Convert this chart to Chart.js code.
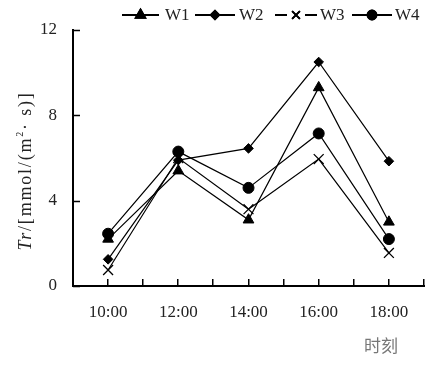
<!DOCTYPE html>
<html>
<head>
<meta charset="utf-8">
<style>
html,body{margin:0;padding:0;background:#fff;}
#wrap{width:439px;height:366px;position:relative;}
</style>
<script src="https://cdn.jsdelivr.net/npm/chart.js@4/dist/chart.umd.min.js"></script>
</head>
<body>
<div id="wrap"><canvas id="c"></canvas></div>
<script>
const categories = ['10:00', '12:00', '14:00', '16:00', '18:00'];
const w1 = [2.2, 5.4, 3.1, 9.3, 3.0];
const w2 = [1.25, 5.9, 6.45, 10.5, 5.85];
const w3 = [0.75, 6.0, 3.6, 5.95, 1.55];
const w4 = [2.45, 6.3, 4.6, 7.15, 2.2];
const seriesNames = ['W1', 'W2', 'W3', 'W4'];
const yTicks = [0, 4, 8, 12];
const xTitle = '时刻';

const FONT = '"Liberation Serif", "Times New Roman", serif';
const styles = [
  {pointStyle: 'triangle', r: 6.2, lr: 5.5},
  {pointStyle: 'rectRot', r: 4.8, lr: 4.2},
  {pointStyle: 'crossRot', r: 7, lr: 5.5},
  {pointStyle: 'circle', r: 5.5, lr: 4.5}
];
const allData = [w1, w2, w3, w4];

const datasets = allData.map((d, i) => ({
  label: seriesNames[i],
  data: d,
  borderColor: '#000',
  backgroundColor: '#000',
  borderWidth: 1.2,
  pointStyle: styles[i].pointStyle,
  pointRadius: styles[i].r,
  pointHoverRadius: styles[i].r,
  pointBorderWidth: styles[i].pointStyle === 'crossRot' ? 1.3 : 1,
  pointBackgroundColor: '#000',
  pointBorderColor: '#000',
  tension: 0,
  fill: false
}));

const decor = {
  id: 'decor',
  afterDraw(chart) {
    const ctx = chart.ctx;
    const ca = chart.chartArea;
    const xs = chart.scales.x, ys = chart.scales.y;
    ctx.save();
    // inward ticks
    ctx.strokeStyle = '#000';
    ctx.lineWidth = 1.5;
    ctx.beginPath();
    yTicks.forEach(v => {
      const py = Math.round(ys.getPixelForValue(v)) + 0.5;
      ctx.moveTo(ca.left, py); ctx.lineTo(ca.left + 7, py);
    });
    const n = categories.length;
    const cw = (ca.right - ca.left) / n;
    for (let i = 1; i <= 2 * n; i++) {
      const px = Math.round(ca.left + i * cw / 2) - 0.25;
      ctx.moveTo(px, ca.bottom); ctx.lineTo(px, ca.bottom - 7);
    }
    ctx.stroke();

    // y title (rotated)
    ctx.save();
    ctx.translate(26, 171);
    ctx.rotate(-Math.PI / 2);
    ctx.fillStyle = '#222';
    ctx.textBaseline = 'middle';
    ctx.textAlign = 'left';
    if ('letterSpacing' in ctx) ctx.letterSpacing = '1.8px';
    const parts = [
      {t: 'Tr', f: 'italic 18px ' + FONT, dy: 0},
      {t: '/[mmol/(m', f: '18px ' + FONT, dy: 0},
      {t: '2', f: '10px ' + FONT, dy: -6},
      {t: '· s)]', f: '18px ' + FONT, dy: 0}
    ];
    let total = 0;
    parts.forEach(p => { ctx.font = p.f; total += ctx.measureText(p.t).width; });
    let x = -total / 2;
    parts.forEach(p => { ctx.font = p.f; ctx.fillText(p.t, x, p.dy); x += ctx.measureText(p.t).width; });
    ctx.restore();

    // x title
    ctx.fillStyle = '#777';
    ctx.font = '17px "Noto Sans CJK SC", sans-serif';
    ctx.textAlign = 'center';
    ctx.textBaseline = 'middle';
    ctx.fillText(xTitle, xs.getPixelForValue(n - 1) - 8, 346);

    // legend
    const legendY = 15;
    const items = [
      {x0: 122, x1: 159, tx: 165},
      {x0: 195, x1: 235, tx: 239},
      {x0: 275, x1: 317, tx: 320},
      {x0: 352, x1: 392, tx: 395}
    ];
    ctx.font = '17px ' + FONT;
    ctx.textAlign = 'left';
    ctx.textBaseline = 'middle';
    items.forEach((it, i) => {
      const cx = (it.x0 + it.x1) / 2;
      ctx.strokeStyle = '#000';
      ctx.lineWidth = 1.8;
      ctx.beginPath();
      if (styles[i].pointStyle === 'crossRot') {
        ctx.moveTo(it.x0, legendY); ctx.lineTo(cx - 9, legendY);
        ctx.moveTo(cx + 9, legendY); ctx.lineTo(it.x1, legendY);
      } else {
        ctx.moveTo(it.x0, legendY); ctx.lineTo(it.x1, legendY);
      }
      ctx.stroke();
      Chart.helpers.drawPoint(ctx, {
        pointStyle: styles[i].pointStyle,
        radius: styles[i].lr,
        borderWidth: 1.2,
        rotation: 0
      }, cx, legendY);
      ctx.fillStyle = '#000';
      ctx.strokeStyle = '#000';
      ctx.fill();
      ctx.stroke();
      ctx.fillStyle = '#222';
      ctx.fillText(seriesNames[i], it.tx, legendY + 1);
    });
    ctx.restore();
  }
};

new Chart(document.getElementById('c'), {
  type: 'line',
  data: {labels: categories, datasets},
  options: {
    responsive: true,
    maintainAspectRatio: false,
    animation: false,
    events: [],
    layout: {padding: {left: 0, right: 15, top: 30, bottom: 0}},
    plugins: {legend: {display: false}, tooltip: {enabled: false}},
    scales: {
      x: {
        type: 'category',
        offset: true,
        grid: {display: true, drawOnChartArea: false, drawTicks: false},
        border: {display: true, color: '#000', width: 2},
        ticks: {color: '#222', font: {family: FONT, size: 17}, padding: 16, maxRotation: 0},
        afterFit(s) { s.height = 80; }
      },
      y: {
        min: 0, max: 12,
        afterBuildTicks(s) { s.ticks = yTicks.map(v => ({value: v})); },
        grid: {display: true, drawOnChartArea: false, drawTicks: false},
        border: {display: true, color: '#000', width: 2},
        ticks: {color: '#222', font: {family: FONT, size: 17}, padding: 16},
        afterFit(s) { s.width = 73; }
      }
    }
  },
  plugins: [decor]
});
</script>
</body>
</html>
